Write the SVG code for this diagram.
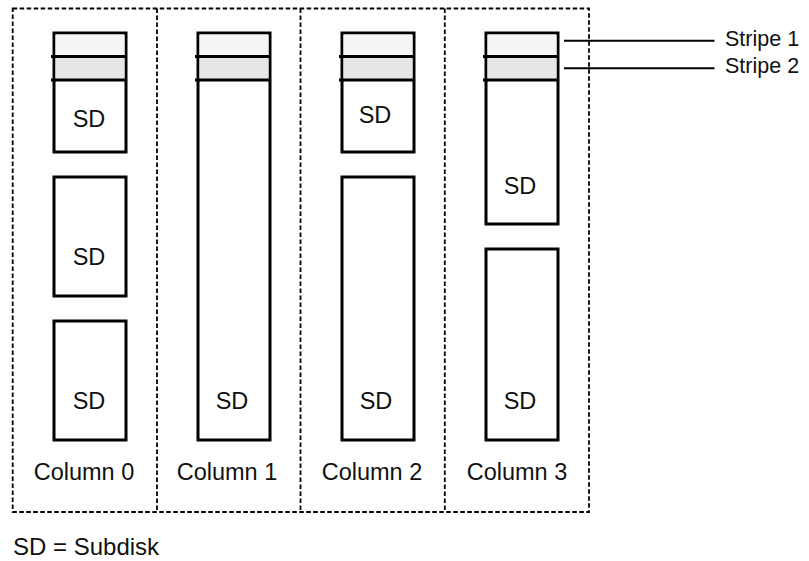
<svg xmlns="http://www.w3.org/2000/svg" width="809" height="561" viewBox="0 0 809 561">
<style>
text{font-family:"Liberation Sans",Arial,Helvetica,sans-serif;fill:#111}
.lbl{font-size:23.5px;text-anchor:middle}
.sd{fill:#fff;stroke:#000;stroke-width:3}
.s1{fill:#f5f5f5}
.s2{fill:#e6e6e6}
.sl{stroke:#000;stroke-width:3}
.dash{fill:none;stroke:#000;stroke-width:1.8;stroke-dasharray:4.5 2.5}
.lead{stroke:#000;stroke-width:2}
</style>
<rect width="809" height="561" fill="#fff"/>
<g id="frame">
<rect class="dash" x="12.7" y="8.5" width="576.3" height="503.5"/>
<line class="dash" x1="157" y1="8.5" x2="157" y2="512"/>
<line class="dash" x1="300.5" y1="8.5" x2="300.5" y2="512"/>
<line class="dash" x1="444.8" y1="8.5" x2="444.8" y2="512"/>
</g>
<g id="col0">
<g id="c0sd1">
<rect class="sd" x="54" y="33" width="72" height="119"/>
<rect class="s1" x="55.5" y="34.5" width="69" height="22"/>
<rect class="s2" x="55.5" y="56.5" width="69" height="23.5"/>
<line class="sl" x1="51" y1="56.5" x2="126" y2="56.5"/>
<line class="sl" x1="51" y1="80" x2="126" y2="80"/>
<text class="lbl" x="89" y="127">SD</text>
</g>
<g id="c0sd2">
<rect class="sd" x="54" y="177" width="72" height="119"/>
<text class="lbl" x="89" y="265">SD</text>
</g>
<g id="c0sd3">
<rect class="sd" x="54" y="321" width="72" height="119"/>
<text class="lbl" x="89" y="409">SD</text>
</g>
<text class="lbl" x="84" y="480">Column 0</text>
</g>
<g id="col1">
<g id="c1sd1">
<rect class="sd" x="198" y="33" width="72" height="407"/>
<rect class="s1" x="199.5" y="34.5" width="69" height="22"/>
<rect class="s2" x="199.5" y="56.5" width="69" height="23.5"/>
<line class="sl" x1="195" y1="56.5" x2="270" y2="56.5"/>
<line class="sl" x1="195" y1="80" x2="270" y2="80"/>
<text class="lbl" x="232" y="409">SD</text>
</g>
<text class="lbl" x="227" y="480">Column 1</text>
</g>
<g id="col2">
<g id="c2sd1">
<rect class="sd" x="342" y="33" width="72" height="119"/>
<rect class="s1" x="343.5" y="34.5" width="69" height="22"/>
<rect class="s2" x="343.5" y="56.5" width="69" height="23.5"/>
<line class="sl" x1="339" y1="56.5" x2="414" y2="56.5"/>
<line class="sl" x1="339" y1="80" x2="414" y2="80"/>
<text class="lbl" x="375" y="123">SD</text>
</g>
<g id="c2sd2">
<rect class="sd" x="342" y="177" width="72" height="263"/>
<text class="lbl" x="376" y="409">SD</text>
</g>
<text class="lbl" x="372" y="480">Column 2</text>
</g>
<g id="col3">
<g id="c3sd1">
<rect class="sd" x="486" y="33" width="72" height="191"/>
<rect class="s1" x="487.5" y="34.5" width="69" height="22"/>
<rect class="s2" x="487.5" y="56.5" width="69" height="23.5"/>
<line class="sl" x1="483" y1="56.5" x2="558" y2="56.5"/>
<line class="sl" x1="483" y1="80" x2="558" y2="80"/>
<text class="lbl" x="520" y="194">SD</text>
</g>
<g id="c3sd2">
<rect class="sd" x="486" y="249" width="72" height="191"/>
<text class="lbl" x="520" y="409">SD</text>
</g>
<text class="lbl" x="517" y="480">Column 3</text>
</g>
<g id="connectors">
<line class="lead" x1="564" y1="40.8" x2="714.5" y2="40.8"/>
<line class="lead" x1="564" y1="68.2" x2="714.5" y2="68.2"/>
</g>
<g id="stripe-labels">
<text x="725" y="46" font-size="21.5">Stripe 1</text>
<text x="725" y="73" font-size="21.5">Stripe 2</text>
</g>
<text x="13" y="555" font-size="24">SD = Subdisk</text>
</svg>
